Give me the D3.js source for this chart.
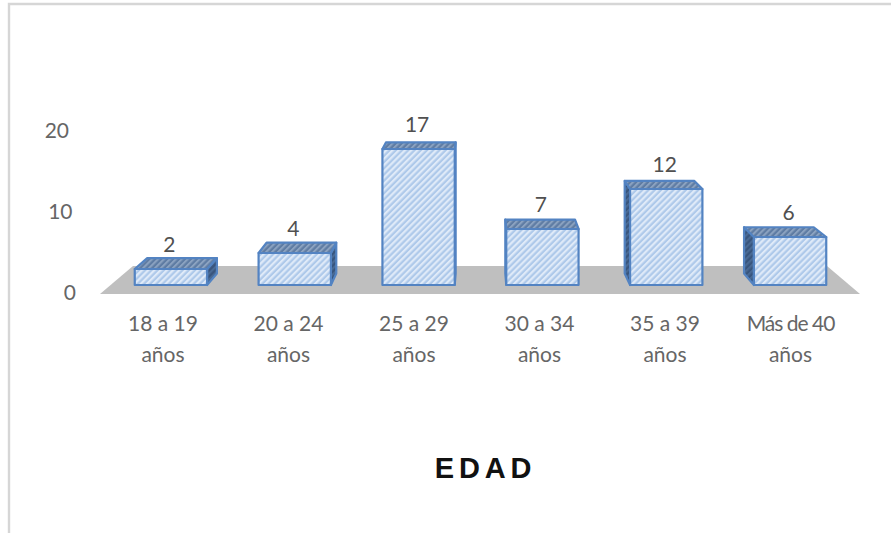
<!DOCTYPE html>
<html><head><meta charset="utf-8">
<script src="https://cdn.jsdelivr.net/npm/d3@7/dist/d3.min.js"></script>
<style>html,body{margin:0;padding:0;background:#fff;overflow:hidden}svg{display:block}</style>
</head><body><svg id="c" width="891" height="533"></svg>
<script>
const categories = [["18 a 19","años"],["20 a 24","años"],["25 a 29","años"],["30 a 34","años"],["35 a 39","años"],["Más de 40","años"]];
const values = [2,4,17,7,12,6];
const yTicks = [0,10,20];
const titleText = "EDAD";

const svg = d3.select("#c");
const x = d3.scaleBand().domain(d3.range(categories.length)).range([109,852]).paddingInner(.416).paddingOuter(.208);
const xLabel = d3.scalePoint().domain(d3.range(categories.length)).range([163,790.5]);
const y = d3.scaleLinear().domain([0,20]).range([285,125]);
const yWall = d3.scaleLinear().domain([0,20]).range([292.5,130.5]);
const tickEdge = d3.scaleLinear().domain([0,20]).range([76,69]);
const vp = {x:480,y:-34,k:.036};
const back = p => [p[0]+(vp.x-p[0])*vp.k, p[1]+(vp.y-p[1])*vp.k];

const defs = svg.append("defs");
function hatch(id,bg,fg,w,size){
  const p = defs.append("pattern").attr("id",id).attr("patternUnits","userSpaceOnUse")
    .attr("width",size).attr("height",size).attr("patternTransform","rotate(45)");
  p.append("rect").attr("width",size).attr("height",size).attr("fill",bg);
  p.append("rect").attr("width",w).attr("height",size).attr("fill",fg);
}
hatch("front","#aec9ea","#dfeaf8",2.2,4.4);
hatch("top","#5f7ca3","#8ba2c0",2,4.2);
hatch("side","#38557d","#4a6a94",2,4.2);
defs.append("filter").attr("id","soft").append("feGaussianBlur").attr("stdDeviation",.5);

// chart frame
svg.append("path").attr("d","M9,533V4H891").attr("fill","none").attr("stroke","#d6d6d6").attr("stroke-width",2.4);

// floor
svg.append("polygon").attr("points",[[100,294],[133,266],[827,266],[860,294]].join(" ")).attr("fill","#bfbfbf");

// y axis
const axis = d3.axisLeft(yWall).tickValues(yTicks).tickSize(0).tickPadding(0);
const ag = svg.append("g").call(axis);
ag.select(".domain").remove();
ag.selectAll(".tick text").attr("x",d=>tickEdge(d)).attr("font-family","Lato").attr("font-size",21).attr("fill","#666");

// bars
const poly = (g,pts,fill)=>g.append("polygon").attr("points",pts.join(" ")).attr("fill",fill)
  .attr("stroke","#5283c2").attr("stroke-width",2.2).attr("stroke-linejoin","round");
const bars = svg.append("g").attr("filter","url(#soft)");
values.forEach((v,i)=>{
  const l=x(i), r=l+x.bandwidth(), t=y(v), b=y(0);
  const g=bars.append("g");
  if(l>vp.x) poly(g,[[l,t],back([l,t]),back([l,b]),[l,b]],"url(#side)");
  if(r<vp.x) poly(g,[[r,t],back([r,t]),back([r,b]),[r,b]],"url(#side)");
  poly(g,[[l,t],back([l,t]),back([r,t]),[r,t]],"url(#top)");
  poly(g,[[l,t],[r,t],[r,b],[l,b]],"url(#front)");
});

// value labels
svg.append("g").selectAll("text").data(values).join("text")
  .attr("x",(d,i)=>x(i)+x.bandwidth()/2-1.5).attr("y",d=>y(d)-17.5)
  .attr("text-anchor","middle").attr("font-family","Lato").attr("font-size",21).attr("fill","#505050")
  .text(d=>d);

// category labels
const cats = svg.append("g").selectAll("text").data(categories).join("text")
  .attr("text-anchor","middle").attr("font-family","Lato").attr("font-size",21).attr("fill","#666");
cats.each(function(d,i){
  d3.select(this).selectAll("tspan").data(d).join("tspan")
    .attr("x",xLabel(i)).attr("y",(t,j)=>331+j*31)
    .attr("letter-spacing",t=>t.length>7?-1:null).text(t=>t);
});

// title
svg.append("text").attr("x",485.5).attr("y",478).attr("text-anchor","middle")
  .attr("font-family","Liberation Sans").attr("font-weight","bold").attr("font-size",29)
  .attr("letter-spacing",4.8).attr("fill","#111").text(titleText);
</script></body></html>
